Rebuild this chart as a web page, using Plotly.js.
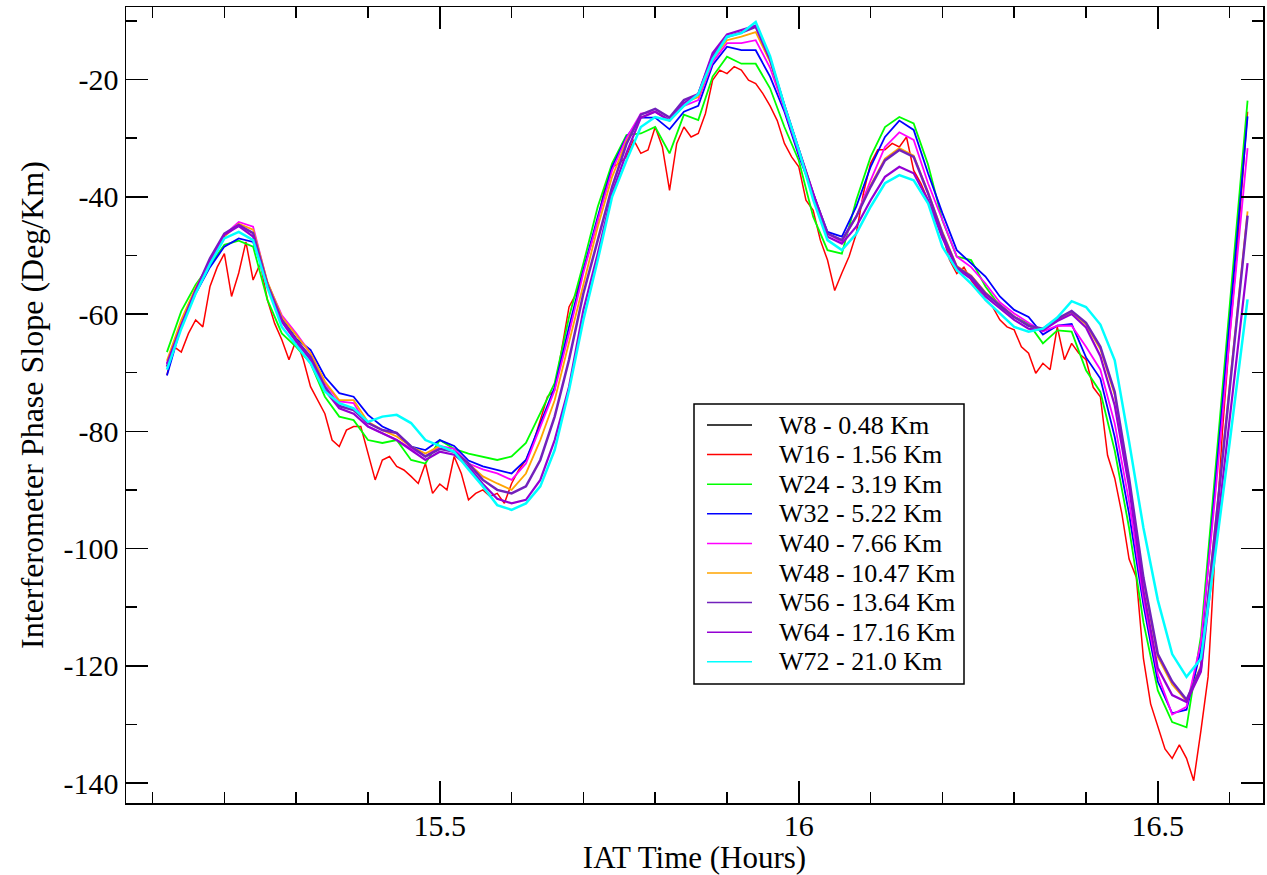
<!DOCTYPE html>
<html>
<head>
<meta charset="utf-8">
<script src="https://cdn.plot.ly/plotly-3.0.1.min.js"></script>
<style>
  html, body { margin: 0; padding: 0; background: #ffffff; }
  #chart { width: 1267px; height: 875px; }
</style>
</head>
<body>
<div id="chart"></div>
<script>
// ---- sample times (hours, IAT) ----
const timeGrid = [15.12,15.14,15.16,15.18,15.20,15.22,15.24,15.26,15.28,15.30,15.32,15.34,15.36,15.38,15.40,15.42,15.44,15.46,15.48,15.50,
  15.52,15.54,15.56,15.58,15.60,15.62,15.64,15.66,15.68,15.70,15.72,15.74,15.76,15.78,15.80,15.82,15.84,15.86,15.88,15.90,
  15.92,15.94,15.96,15.98,16.00,16.02,16.04,16.06,16.08,16.10,16.12,16.14,16.16,16.18,16.20,16.22,16.24,16.26,16.28,16.30,
  16.32,16.34,16.36,16.38,16.40,16.42,16.44,16.46,16.48,16.50,16.52,16.54,16.56,16.58,16.60,16.625];

const timeFine = [15.12,15.13,15.14,15.15,15.16,15.17,15.18,15.19,15.20,15.21,15.22,15.23,15.24,15.25,15.26,15.27,15.28,15.29,15.30,15.31,
  15.32,15.33,15.34,15.35,15.36,15.37,15.38,15.39,15.40,15.41,15.42,15.43,15.44,15.45,15.46,15.47,15.48,15.49,15.50,15.51,
  15.52,15.53,15.54,15.55,15.56,15.57,15.58,15.59,15.60,15.61,15.62,15.63,15.64,15.65,15.66,15.67,15.68,15.69,15.70,15.71,
  15.72,15.73,15.74,15.75,15.76,15.77,15.78,15.79,15.80,15.81,15.82,15.83,15.84,15.85,15.86,15.87,15.88,15.89,15.90,15.91,
  15.92,15.93,15.94,15.95,15.96,15.97,15.98,15.99,16.00,16.01,16.02,16.03,16.04,16.05,16.06,16.07,16.08,16.09,16.10,16.11,
  16.12,16.13,16.14,16.15,16.16,16.17,16.18,16.19,16.20,16.21,16.22,16.23,16.24,16.25,16.26,16.27,16.28,16.29,16.30,16.31,
  16.32,16.33,16.34,16.35,16.36,16.37,16.38,16.39,16.40,16.41,16.42,16.43,16.44,16.45,16.46,16.47,16.48,16.49,16.50,16.51,
  16.52,16.53,16.54,16.55,16.56,16.57,16.58,16.59,16.60,16.61,16.625];

// ---- series (Deg/Km) ----
const w8 = [];
const w16 = [-70.4,-65.6,-66.5,-63.3,-61,-62.2,-55.3,-52,-49.7,-57,-53,-47.7,-54.2,-51.4,-57.6,-61.6,-64.4,-67.8,-64.4,-67.8,
  -72.4,-74.7,-77,-81.5,-82.6,-79.8,-79.2,-79.2,-83.8,-88.3,-84.9,-84.3,-86,-86.6,-87.7,-88.9,-85.5,-90.6,-89,-90,
  -84.3,-87.2,-91.7,-90.6,-90,-91.1,-90.6,-92.3,-88.9,-86.6,-84.9,-82,-78.1,-74.1,-73,-66.1,-58.8,-56.5,-52.5,-48.5,
  -44,-38.3,-34.9,-34.3,-33.2,-30.3,-32.6,-32,-28.1,-31.5,-38.9,-30.9,-28.1,-29.8,-29.2,-25.8,-20.1,-18.4,-19,-17.8,
  -18.4,-20.1,-20.7,-22.4,-24.5,-27,-30.9,-33.2,-34.9,-40.6,-42.3,-47.4,-50.8,-56,-53,-50.2,-46.3,-39.4,-34.3,-32,
  -32,-30.9,-31.5,-29.8,-35.5,-37.7,-40.6,-43.4,-46.3,-50.8,-53.1,-52,-54.2,-55.9,-57.6,-58.8,-61,-62.2,-62.7,-65.6,
  -66.7,-70.1,-68.4,-69.5,-62.2,-67.8,-65,-66.7,-67.8,-72.5,-74.1,-84.1,-88,-94.1,-101.8,-104.9,-118.8,-126.5,-130.4,-134.2,
  -135.8,-133.5,-135.8,-139.6,-131.1,-121.9,-100,-80,-64,-50,-25.5];
const w24 = [-66.5,-59.5,-55,-51.5,-48.2,-47.5,-48.5,-57.6,-63.3,-65.6,-68.4,-74.1,-77.5,-78.1,-81.5,-82,-81.5,-84.9,-85.5,-81.5,
  -83,-83.8,-84.3,-84.9,-84.3,-82,-76.9,-71.8,-60.5,-51.4,-41.7,-34.3,-29.5,-29.2,-28.1,-32.6,-26,-26.9,-19.5,-16.1,
  -17.3,-17.3,-21.5,-28.1,-33.8,-43.4,-49.1,-49.7,-40.6,-33.2,-28.1,-26.4,-27.5,-34.5,-44,-50.2,-50.8,-55.3,-58.7,-60.5,
  -61.6,-65,-62.8,-63,-69.6,-73.3,-83.3,-96.5,-112.6,-124.2,-129.6,-130.5,-115,-87,-59,-23.6];
const w32 = [-70.5,-62,-56.5,-52,-48.5,-47.1,-47.7,-54.7,-60.8,-64.2,-66.1,-70.7,-73.5,-74.1,-77.2,-79.2,-80.3,-82.6,-83.2,-81.5,
  -82.5,-85,-86,-86.6,-87.2,-84.9,-78.6,-72.5,-62.2,-52.5,-43.4,-34.9,-29.8,-26.5,-26.5,-28.5,-25.5,-24.5,-17.5,-14.4,
  -15,-15,-19.5,-25.5,-33,-39.5,-46,-46.8,-41.7,-34.9,-29.8,-27,-28.6,-36,-42.8,-49.1,-51.4,-53.6,-57,-59.3,
  -60.5,-63.5,-62,-61.7,-67.4,-71,-81,-94.1,-109.6,-122.7,-128.1,-127.5,-117.3,-89.5,-61,-26.3];
const w40 = [-68.5,-61.5,-56,-51,-46.5,-44.3,-45.1,-54.7,-60.2,-63.3,-66.7,-71.8,-74.9,-75.2,-79.2,-80.3,-81.5,-82.9,-84.3,-82.5,
  -83,-85.5,-86.5,-87.2,-88.3,-85.5,-79.2,-73,-63.3,-53,-44,-35.5,-30,-25.8,-25.5,-27,-24.5,-23.5,-17,-13.8,
  -13.8,-13.3,-18,-25,-32.5,-39.5,-46.3,-47.7,-43.4,-37.2,-31.5,-29,-30.3,-37.7,-44,-50.2,-52,-54.8,-58,-59.9,
  -61.5,-63,-62,-62,-65.6,-69.5,-78.7,-92,-108.5,-121.5,-128.3,-127,-116,-91,-64,-31.7];
const w48 = [-68,-61,-55.5,-51,-46.8,-44.6,-45.6,-54.5,-60.5,-63.6,-66.7,-71.5,-74.7,-74.7,-78.4,-79.8,-80.9,-82.6,-83.8,-82.5,
  -83.5,-85.5,-87.7,-88.9,-90,-87.2,-81.5,-74.7,-65,-54.8,-45.1,-36.6,-30.5,-26.5,-25.5,-27,-24,-23,-16.5,-13.3,
  -12.7,-11.9,-17,-24.5,-32,-39.5,-46.3,-47.4,-43.4,-38,-33.5,-31.7,-33,-39.2,-46,-51.8,-53.4,-56.3,-58.4,-60.4,
  -62,-62.6,-61,-59.7,-61.8,-66,-73.8,-88.5,-105.5,-118.5,-123.2,-126,-120,-96.5,-72.5,-42.5];
const w56 = [-69,-62,-56,-50.5,-46.3,-44.8,-46.2,-55,-61,-64.4,-67.3,-72.4,-75.7,-76.4,-78.6,-79.8,-80.3,-82.6,-84.3,-83,
  -83.5,-85.5,-88.3,-90,-90.6,-89.4,-84.9,-77.5,-67.8,-56.5,-47.4,-38.3,-31,-26,-25,-26.5,-23.5,-22.5,-16,-12.7,
  -12,-11,-16.5,-24.5,-32,-39.5,-46.3,-47.4,-43.4,-38.3,-33.8,-32,-33.2,-39.4,-46.3,-52,-53.6,-56.5,-58.5,-60.5,
  -62,-62.5,-60.8,-59.5,-61.5,-65.6,-73.3,-88,-105,-118,-122.7,-125.8,-120.4,-97,-73,-43.2];
const w64 = [-68.5,-62,-56,-51,-46.5,-45,-46.8,-55.3,-61.3,-64.7,-67.8,-73,-76.1,-77,-79.2,-80.3,-81.5,-83.2,-84.9,-83.5,
  -84,-86,-89,-91.5,-92.3,-91.7,-88.3,-81.5,-72.4,-59.3,-49.7,-39.4,-32.5,-26.5,-25.5,-27,-24,-22.5,-15.5,-12.3,
  -11.6,-10.8,-16.5,-24.5,-32,-39.5,-46.8,-48,-45.1,-40.6,-36.6,-34.9,-36,-40.6,-47,-52.3,-54,-57,-59,-61,
  -62.5,-62.8,-61.2,-60,-62.3,-67.2,-75.6,-89.5,-107.2,-120.4,-125,-126.2,-121,-100,-78,-51.3];
const w72 = [-69.5,-62.5,-56.5,-51.5,-47.1,-46,-47.4,-55.5,-62.2,-65.3,-68.4,-73.2,-75.2,-76.1,-78.4,-77.5,-77.2,-78.6,-81.5,-82.5,
  -83.5,-86.5,-89.4,-92.6,-93.4,-92.3,-89.4,-83.2,-73,-61,-50.8,-40,-33.8,-28.1,-26.4,-27,-24.5,-22.5,-16.5,-12.7,
  -12.1,-10.2,-16,-24.5,-32,-40.5,-47.4,-49.1,-46.3,-41.7,-37.7,-36.3,-37.2,-41.1,-48.5,-52.5,-54.8,-57.6,-59.9,-62.2,
  -63,-62.5,-60.6,-57.8,-58.8,-61.8,-67.9,-81.8,-96.5,-108.8,-118,-121.9,-118.8,-101,-82,-57.5];

const seriesNames = ['W8 - 0.48 Km','W16 - 1.56 Km','W24 - 3.19 Km','W32 - 5.22 Km','W40 - 7.66 Km',
  'W48 - 10.47 Km','W56 - 13.64 Km','W64 - 17.16 Km','W72 - 21.0 Km'];
const seriesColors = ['#000000','#ff0000','#00ff00','#0000ff','#ff00ff','#ffa500','#7221bc','#9400d3','#00ffff'];
const seriesWidths = [1.5,1.5,1.8,1.8,1.8,1.8,2.5,2.2,2.5];
const seriesTimes = [timeGrid, timeFine, timeGrid, timeGrid, timeGrid, timeGrid, timeGrid, timeGrid, timeGrid];
const seriesValues = [w8, w16, w24, w32, w40, w48, w56, w64, w72];

const xTickVals = [15.5, 16, 16.5];
const xTickText = ['15.5', '16', '16.5'];
const yTickVals = [-140, -120, -100, -80, -60, -40, -20];
const yTickText = ['-140', '-120', '-100', '-80', '-60', '-40', '-20'];

const FONT = 'Liberation Serif, Times New Roman, serif';

// plot-area geometry in pixels (used for the hand-built legend box)
const W = 1267, H = 875;
const M = { l: 126, r: 4, t: 7, b: 72 };
const plotW = W - M.l - M.r, plotH = H - M.t - M.b;
const px2fx = px => (px - M.l) / plotW;
const py2fy = py => (H - M.b - py) / plotH;

const traces = seriesValues.map((vals, k) => ({
  type: 'scatter',
  mode: 'lines',
  x: vals.length ? seriesTimes[k] : [],
  y: vals,
  name: seriesNames[k],
  line: { color: seriesColors[k], width: seriesWidths[k] },
  showlegend: false,
  hoverinfo: 'skip'
}));

// legend (box, sample lines, labels) in the style of the original
const LEG = { left: 694, right: 964, top: 404, bottom: 684, row0: 425, step: 29.6, s0: 707, s1: 752, tx: 777 };
const shapes = [{
  type: 'rect', xref: 'paper', yref: 'paper', layer: 'above',
  x0: px2fx(LEG.left), x1: px2fx(LEG.right), y0: py2fy(LEG.bottom), y1: py2fy(LEG.top),
  line: { color: '#000000', width: 1.5 }, fillcolor: '#ffffff'
}];
const annotations = [];
seriesNames.forEach((name, k) => {
  const yy = py2fy(LEG.row0 + k * LEG.step);
  shapes.push({
    type: 'line', xref: 'paper', yref: 'paper', layer: 'above',
    x0: px2fx(LEG.s0), x1: px2fx(LEG.s1), y0: yy, y1: yy,
    line: { color: seriesColors[k], width: 1.5 }
  });
  annotations.push({
    xref: 'paper', yref: 'paper', x: px2fx(LEG.tx), y: yy,
    xanchor: 'left', yanchor: 'middle', showarrow: false, text: name,
    font: { family: FONT, size: 26, color: '#000000' }
  });
});

const axisCommon = {
  showgrid: false,
  zeroline: false,
  showline: true,
  linecolor: '#000000',
  linewidth: 1.5,
  mirror: 'ticks',
  ticks: 'inside',
  ticklen: 22,
  tickwidth: 1.5,
  tickcolor: '#000000',
  tickfont: { family: FONT, size: 30, color: '#000000' },
  tickmode: 'array'
};

const layout = {
  width: W,
  height: H,
  margin: M,
  paper_bgcolor: '#ffffff',
  plot_bgcolor: '#ffffff',
  font: { family: FONT, color: '#000000' },
  showlegend: false,
  xaxis: Object.assign({}, axisCommon, {
    range: [15.063, 16.6465],
    tickvals: xTickVals,
    ticktext: xTickText,
    ticklabelstandoff: -5,
    minor: { tickmode: 'linear', tick0: 15, dtick: 0.1, ticks: 'inside', ticklen: 11, tickwidth: 1.5, tickcolor: '#000000' },
    title: { text: 'IAT Time (Hours)', font: { family: FONT, size: 31, color: '#000000' }, standoff: 4 }
  }),
  yaxis: Object.assign({}, axisCommon, {
    range: [-143.41, -7.63],
    tickvals: yTickVals,
    ticktext: yTickText,
    minor: { tickmode: 'linear', tick0: 0, dtick: 10, ticks: 'inside', ticklen: 11, tickwidth: 1.5, tickcolor: '#000000' },
    title: { text: 'Interferometer Phase Slope (Deg/Km)', font: { family: FONT, size: 32, color: '#000000' }, standoff: 10 }
  }),
  shapes: shapes,
  annotations: annotations
};

Plotly.newPlot('chart', traces, layout, { displayModeBar: false, staticPlot: true });
</script>
</body>
</html>
